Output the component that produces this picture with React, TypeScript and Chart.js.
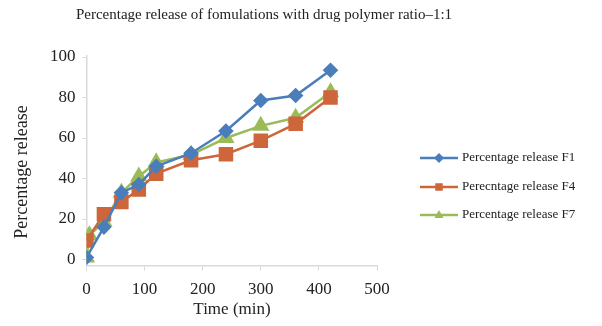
import React, { useEffect, useRef } from "react";
import { Chart, registerables } from "chart.js";

Chart.register(...registerables);

const titleText = "Percentage release of fomulations with drug polymer ratio\u20131:1";
const xTitle = "Time (min)";
const yTitle = "Percentage release";
const yTickValues = [0, 20, 40, 60, 80, 100];

const timesF1 = [0, 30, 60, 90, 120, 180, 240, 300, 360, 420];
const valuesF1 = [1, 16, 33, 37, 46, 52.5, 63.5, 78.5, 81, 93.5];
const timesF4 = [0, 30, 60, 90, 120, 180, 240, 300, 360, 420];
const valuesF4 = [9.4, 22.4, 28.4, 34.6, 42.4, 49, 52, 58.7, 67, 80];
const timesF7 = [0, 5, 30, 60, 90, 120, 180, 240, 300, 360, 420];
const valuesF7 = [1, 12, 18.7, 33, 41, 48, 51.7, 60, 66, 70, 82.6];

const labelF1 = "Percentage release F1";
const labelF4 = "Perecntage release F4";
const labelF7 = "Percentage release F7";

const toPoints = (xs: number[], ys: number[]) => xs.map((x, i) => ({ x, y: ys[i] }));

const FONT = "'Liberation Serif', 'Times New Roman', serif";

function drawMarker(ctx: CanvasRenderingContext2D, style: string, x: number, y: number, r: number) {
  ctx.beginPath();
  if (style === "rectRot") {
    ctx.moveTo(x, y - r);
    ctx.lineTo(x + r, y);
    ctx.lineTo(x, y + r);
    ctx.lineTo(x - r, y);
  } else if (style === "rect") {
    ctx.rect(x - r * 0.75, y - r * 0.75, r * 1.5, r * 1.5);
  } else {
    ctx.moveTo(x, y - r);
    ctx.lineTo(x + r * 0.9, y + r * 0.6);
    ctx.lineTo(x - r * 0.9, y + r * 0.6);
  }
  ctx.closePath();
  ctx.fill();
}

const textPlugin = {
  id: "excelText",
  afterDraw(chart: any) {
    const ctx = chart.ctx;
    ctx.save();
    ctx.fillStyle = "#222";
    ctx.textAlign = "center";
    ctx.textBaseline = "middle";
    ctx.font = "15px " + FONT;
    ctx.fillText(titleText, 264, 15);
    ctx.font = "17px " + FONT;
    ctx.fillText(xTitle, 232, 310);
    ctx.translate(22, 172);
    ctx.rotate(-Math.PI / 2);
    ctx.font = "18px " + FONT;
    ctx.fillText(yTitle, 0, 0);
    ctx.restore();

    const x0 = 420;
    const x1 = 458;
    const ys = [158, 187, 215];
    chart.data.datasets.forEach((ds: any, i: number) => {
      const y = ys[i];
      ctx.save();
      ctx.strokeStyle = ds.borderColor;
      ctx.lineWidth = ds.borderWidth;
      ctx.beginPath();
      ctx.moveTo(x0, y);
      ctx.lineTo(x1, y);
      ctx.stroke();
      ctx.fillStyle = ds.pointBackgroundColor;
      drawMarker(ctx, ds.pointStyle, (x0 + x1) / 2, y, 5);
      ctx.fillStyle = "#222";
      ctx.font = "13px " + FONT;
      ctx.textBaseline = "middle";
      ctx.textAlign = "left";
      ctx.fillText(ds.label, x1 + 4, y);
      ctx.restore();
    });
  },
};

export default function App() {
  const ref = useRef<HTMLCanvasElement | null>(null);
  useEffect(() => {
    document.body.style.margin = "0";
    const canvas = ref.current!;
    const chart = new Chart(canvas, {
      type: "line",
      data: {
        datasets: [
          {
            label: labelF1,
            data: toPoints(timesF1, valuesF1),
            borderColor: "#4a7ebb",
            backgroundColor: "#4a7ebb",
            pointBackgroundColor: "#4a7ebb",
            pointBorderColor: "#4a7ebb",
            pointStyle: "rectRot",
            pointRadius: 6,
            borderWidth: 2.5,
          },
          {
            label: labelF4,
            data: toPoints(timesF4, valuesF4),
            borderColor: "#cd663a",
            backgroundColor: "#cd663a",
            pointBackgroundColor: "#cd663a",
            pointBorderColor: "#cd663a",
            pointStyle: "rect",
            pointRadius: 8.5,
            borderWidth: 2.5,
          },
          {
            label: labelF7,
            data: toPoints(timesF7, valuesF7),
            borderColor: "#9bbb59",
            backgroundColor: "#9bbb59",
            pointBackgroundColor: "#9bbb59",
            pointBorderColor: "#9bbb59",
            pointStyle: "triangle",
            pointRadius: 7.5,
            borderWidth: 2.5,
          },
        ],
      },
      options: {
        responsive: false,
        animation: false,
        devicePixelRatio: 1,
        layout: { padding: { left: 43, right: 225, top: 56, bottom: 17 } },
        plugins: {
          legend: { display: false },
          tooltip: { enabled: false },
          title: { display: false },
        },
        scales: {
          x: {
            type: "linear",
            min: 0,
            max: 500,
            ticks: { stepSize: 100, color: "#222", font: { family: FONT, size: 17 }, padding: 9 },
            grid: { display: true, drawOnChartArea: false, color: "#d9d9d9", tickLength: 5, lineWidth: 1 },
            border: { color: "#d9d9d9", width: 1.5 },
            title: { display: false },
          },
          y: {
            type: "linear",
            min: -3,
            max: 100.5,
            afterBuildTicks: (axis: any) => {
              axis.ticks = yTickValues.map((v) => ({ value: v }));
            },
            ticks: { color: "#222", font: { family: FONT, size: 17 }, padding: 7 },
            grid: { display: true, drawOnChartArea: false, color: "#d9d9d9", tickLength: 4, lineWidth: 1 },
            border: { color: "#d9d9d9", width: 1.5 },
            title: { display: false },
          },
        },
      },
      plugins: [textPlugin],
    } as any);
    return () => chart.destroy();
  }, []);
  return (
    <div style={{ width: 602, height: 326, background: "#fff" }}>
      <canvas ref={ref} width={602} height={326} style={{ display: "block" }} />
    </div>
  );
}
